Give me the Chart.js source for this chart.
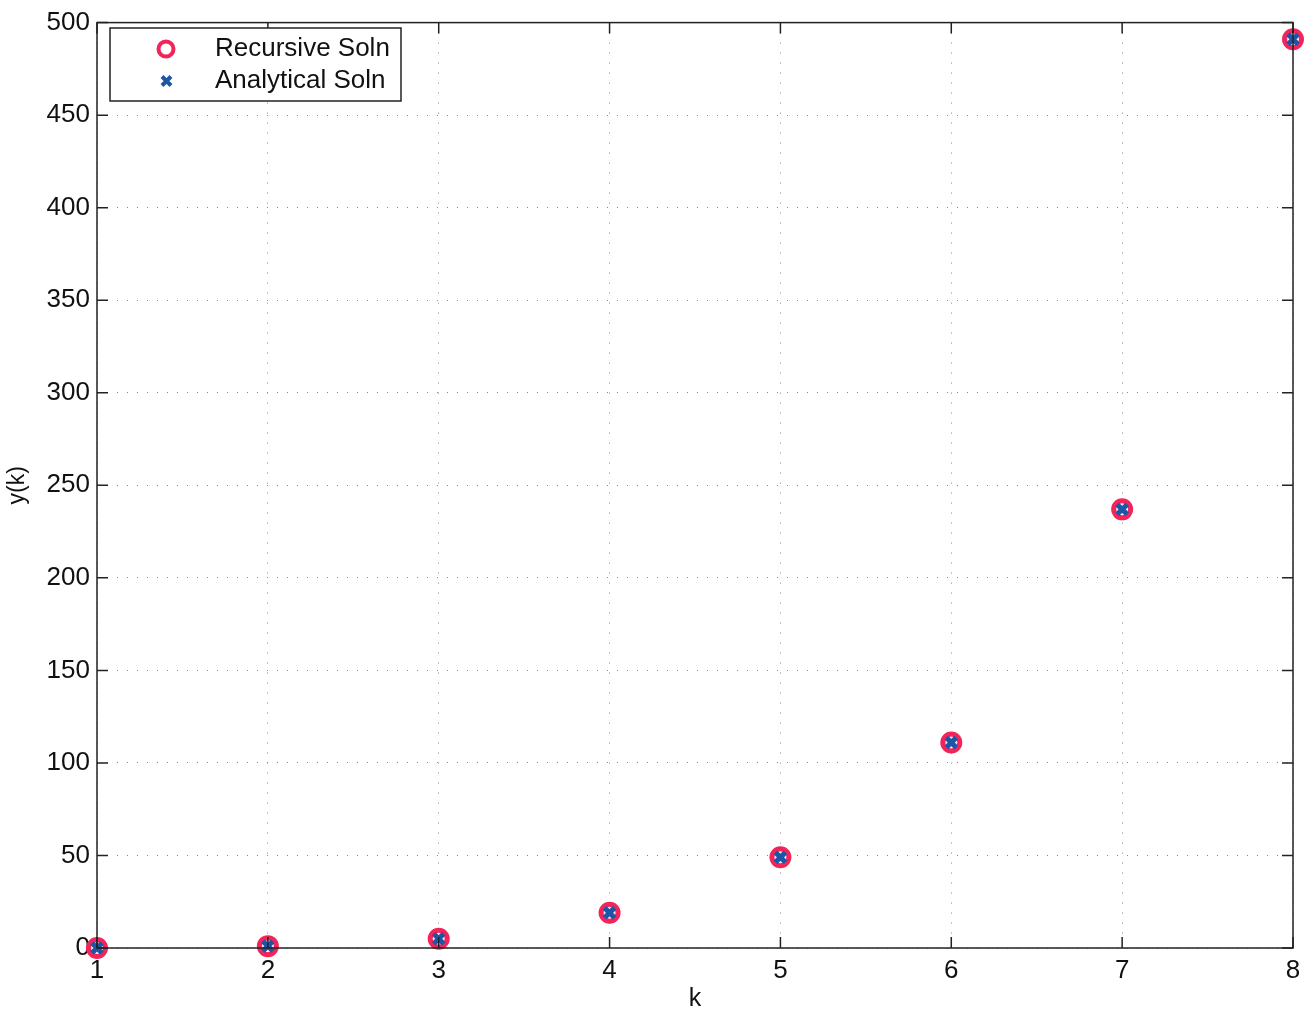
<!DOCTYPE html>
<html>
<head>
<meta charset="utf-8">
<script src="https://cdn.jsdelivr.net/npm/chart.js@4/dist/chart.umd.min.js"></script>
<style>
html, body { margin:0; padding:0; background:#fff; }
#wrap { width:1312px; height:1018px; }
</style>
</head>
<body>
<div id="wrap"><canvas id="plot_chart"></canvas></div>
<script>
// values
var k = [1, 2, 3, 4, 5, 6, 7, 8];
var recursive = [0, 1, 5, 19, 49, 111, 237, 491];
var analytical = [0, 1, 5, 19, 49, 111, 237, 491];
var yTicks = [0, 50, 100, 150, 200, 250, 300, 350, 400, 450, 500];

function pts(xs, ys) {
  var out = [];
  for (var i = 0; i < xs.length; i += 1) out.push({x: xs[i], y: ys[i]});
  return out;
}

const FONT = "'Liberation Sans', Arial, sans-serif";

// box, inward ticks and the legend like the matlab figure
const boxPlugin = {
  id: 'boxPlugin',
  afterDatasetsDraw(chart) {
    const c = chart.ctx, a = chart.chartArea;
    const xs = chart.scales.x, ys = chart.scales.y;
    c.save();
    c.strokeStyle = '#222';
    c.lineWidth = 1.5;
    c.strokeRect(a.left, a.top, a.right - a.left, a.bottom - a.top);
    c.beginPath();
    k.forEach(function(v) {
      var px = xs.getPixelForValue(v);
      c.moveTo(px, a.bottom); c.lineTo(px, a.bottom - 11);
      c.moveTo(px, a.top); c.lineTo(px, a.top + 11);
    });
    yTicks.forEach(function(v) {
      var py = ys.getPixelForValue(v);
      c.moveTo(a.left, py); c.lineTo(a.left + 11, py);
      c.moveTo(a.right, py); c.lineTo(a.right - 11, py);
    });
    c.stroke();

    // legend
    var lx = 110, ly = 28, lw = 291, lh = 73;
    c.fillStyle = '#fff';
    c.fillRect(lx, ly, lw, lh);
    c.lineWidth = 1.5;
    c.strokeRect(lx, ly, lw, lh);
    c.font = '26px ' + FONT;
    c.textBaseline = 'middle';
    c.fillStyle = '#111';
    chart.data.datasets.forEach(function(ds, i) {
      var cy = ly + 21 + i * 32;
      c.fillText(ds.label, lx + 105, cy);
      c.strokeStyle = ds.borderColor;
      c.lineWidth = 4;
      c.beginPath();
      if (ds.pointStyle === 'circle') {
        c.arc(lx + 56, cy, 7.5, 0, Math.PI * 2);
      } else {
        c.moveTo(lx + 52, cy - 4.5); c.lineTo(lx + 61, cy + 4.5);
        c.moveTo(lx + 61, cy - 4.5); c.lineTo(lx + 52, cy + 4.5);
      }
      c.stroke();
    });
    c.restore();
  }
};

new Chart(document.querySelector('#plot_chart').getContext('2d'), {
  type: 'scatter',
  data: {
    datasets: [{
      label: 'Recursive Soln',
      data: pts(k, recursive),
      order: 2,
      pointStyle: 'circle',
      pointRadius: 8.5,
      borderWidth: 5,
      borderColor: '#f2245a',
      backgroundColor: '#fde8ee'
    }, {
      label: 'Analytical Soln',
      data: pts(k, analytical),
      order: 1,
      pointStyle: 'crossRot',
      pointRadius: 7,
      borderWidth: 5,
      borderColor: '#1d56a6',
      backgroundColor: '#1d56a6'
    }]
  },
  plugins: [boxPlugin],
  options: {
    responsive: true,
    maintainAspectRatio: false,
    animation: false,
    clip: false,
    layout: { padding: { top: 16, right: 19, left: 0, bottom: 0 } },
    plugins: { legend: { display: false }, tooltip: { enabled: false } },
    scales: {
      x: {
        type: 'linear', min: 1, max: 8,
        afterFit: function(s) { s.height = 70; },
        afterBuildTicks: function(s) { s.ticks = k.map(function(v) { return {value: v}; }); },
        grid: { color: '#888', drawTicks: false, lineWidth: 1 },
        border: { display: false, dash: [1, 9] },
        ticks: { color: '#111', padding: 7, font: { family: FONT, size: 26 } },
        title: { display: true, text: 'k', color: '#111', padding: { top: 0 }, font: { family: FONT, size: 25 } }
      },
      y: {
        min: 0, max: 500,
        afterFit: function(s) { s.width = 97; },
        afterBuildTicks: function(s) { s.ticks = yTicks.map(function(v) { return {value: v}; }); },
        grid: { color: '#888', drawTicks: false, lineWidth: 1 },
        border: { display: false, dash: [1, 9] },
        ticks: { color: '#111', padding: 7, font: { family: FONT, size: 26 } },
        title: { display: true, text: 'y(k)', color: '#111', padding: { bottom: 0 }, font: { family: FONT, size: 23 } }
      }
    }
  }
});
</script>
</body>
</html>
